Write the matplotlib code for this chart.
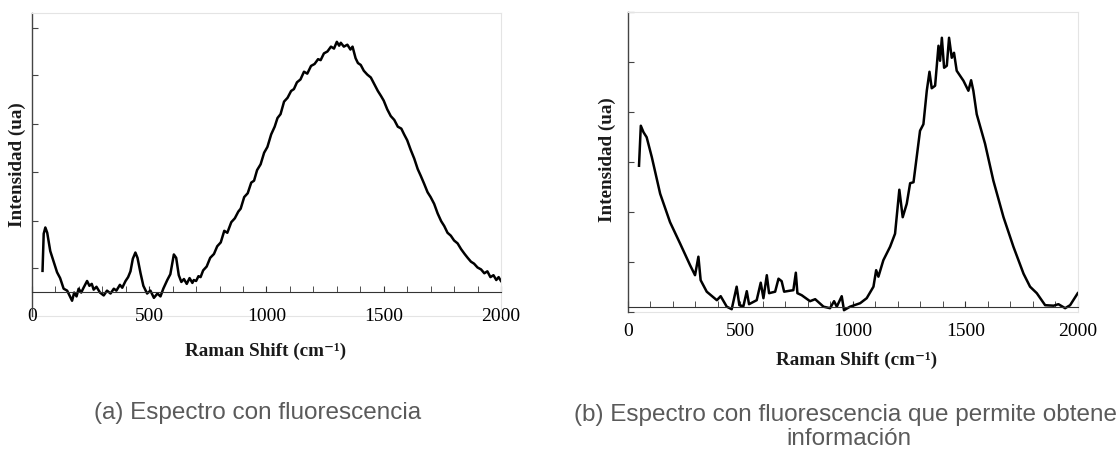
import matplotlib.pyplot as plt
from matplotlib.ticker import MultipleLocator

# spectrum (a): strong fluorescence background
shift_a = [45, 50, 57, 65, 78, 90, 107, 120, 135, 150, 160, 171, 180, 190, 199, 210, 220, 235, 245, 255,
           263, 275, 290, 306, 320, 335, 349, 360, 375, 385, 399, 410, 420, 430, 441, 450, 463, 475, 491, 505,
           520, 535, 548, 560, 577, 590, 605, 615, 626, 637, 648, 660, 672, 684, 690, 700, 710, 719, 730, 745,
           760, 776, 790, 805, 820, 833, 850, 865, 880, 890, 905, 920, 935, 947, 960, 975, 990, 1004, 1020, 1035,
           1047, 1060, 1075, 1090, 1105, 1117, 1130, 1145, 1160, 1174, 1190, 1205, 1220, 1231, 1245, 1260, 1275,
           1288, 1300, 1310, 1317, 1330, 1345, 1358, 1367, 1380, 1390, 1402, 1415, 1430, 1445, 1460, 1475, 1488,
           1500, 1515, 1530, 1545, 1560, 1575, 1587, 1600, 1615, 1630, 1645, 1658, 1672, 1687, 1700, 1715, 1730,
           1745, 1758, 1772, 1786, 1800, 1815, 1830, 1845, 1858, 1872, 1885, 1900, 1915, 1929, 1942, 1955, 1968,
           1980, 1990, 2000]
intens_a = [0.43, 1.20, 1.33, 1.22, 0.84, 0.66, 0.40, 0.28, 0.06, 0.02, -0.08, -0.19, -0.02, -0.10, 0.06, -0.02,
            0.08, 0.22, 0.12, 0.16, 0.04, 0.10, -0.02, -0.08, 0.02, -0.04, 0.06, 0.02, 0.14, 0.08, 0.22, 0.30,
            0.42, 0.68, 0.81, 0.70, 0.38, 0.12, -0.04, 0.02, -0.13, -0.04, -0.10, 0.06, 0.24, 0.36, 0.77, 0.70,
            0.34, 0.20, 0.26, 0.16, 0.28, 0.18, 0.24, 0.22, 0.32, 0.30, 0.44, 0.52, 0.70, 0.78, 0.94, 1.02, 1.26,
            1.22, 1.44, 1.52, 1.66, 1.72, 1.96, 2.04, 2.26, 2.30, 2.52, 2.64, 2.88, 3.00, 3.26, 3.42, 3.60, 3.68,
            3.94, 4.02, 4.16, 4.20, 4.34, 4.40, 4.56, 4.52, 4.68, 4.72, 4.82, 4.80, 4.94, 4.98, 5.08, 5.04, 5.18,
            5.10, 5.16, 5.08, 5.12, 5.02, 5.08, 4.84, 4.74, 4.70, 4.58, 4.50, 4.44, 4.30, 4.16, 4.06, 3.96, 3.78,
            3.64, 3.56, 3.42, 3.38, 3.26, 3.14, 2.94, 2.76, 2.54, 2.40, 2.24, 2.06, 1.96, 1.82, 1.62, 1.46, 1.36,
            1.22, 1.16, 1.06, 1.00, 0.88, 0.78, 0.70, 0.62, 0.58, 0.50, 0.46, 0.38, 0.42, 0.30, 0.34, 0.24, 0.30,
            0.22]

# spectrum (b): fluorescence with visible Raman bands
shift_b = [50, 58, 70, 84, 107, 144, 188, 233, 277, 299, 314, 324, 351, 396, 413, 440, 462, 484, 496, 514,
           529, 539, 573, 591, 603, 618, 628, 655, 670, 684, 695, 721, 736, 747, 754, 773, 810, 833, 870, 899,
           917, 929, 951, 961, 988, 1033, 1062, 1092, 1104, 1114, 1136, 1166, 1188, 1207, 1222, 1240, 1255, 1270,
           1299, 1314, 1329, 1341, 1351, 1366, 1381, 1388, 1396, 1406, 1418, 1428, 1440, 1450, 1462, 1492, 1514,
           1526, 1536, 1551, 1588, 1625, 1670, 1714, 1759, 1788, 1818, 1855, 1893, 1914, 1944, 1966, 2000]
intens_b = [2.92, 3.72, 3.59, 3.49, 3.09, 2.36, 1.79, 1.36, 0.93, 0.73, 1.10, 0.63, 0.40, 0.23, 0.31, 0.10,
            0.05, 0.50, 0.13, 0.11, 0.41, 0.15, 0.23, 0.58, 0.27, 0.73, 0.37, 0.40, 0.66, 0.61, 0.40, 0.42, 0.43,
            0.78, 0.37, 0.33, 0.21, 0.25, 0.10, 0.07, 0.21, 0.10, 0.31, 0.03, 0.10, 0.17, 0.27, 0.50, 0.83, 0.70,
            1.03, 1.30, 1.56, 2.44, 1.89, 2.16, 2.57, 2.59, 3.62, 3.75, 4.42, 4.80, 4.47, 4.52, 5.32, 5.02, 5.48,
            4.88, 4.92, 5.48, 5.08, 5.18, 4.82, 4.62, 4.42, 4.63, 4.42, 3.95, 3.36, 2.62, 1.89, 1.30, 0.76, 0.50,
            0.37, 0.13, 0.12, 0.15, 0.07, 0.13, 0.37]

serif = ['Liberation Serif', 'DejaVu Serif']


def style_axes(ax, base, yticks, ylim):
    ax.set_xlim(0, 2000)
    ax.set_ylim(*ylim)
    ax.spines['bottom'].set_position(('data', base))
    ax.spines['bottom'].set_color('#333333')
    ax.spines['left'].set_color('#444444')
    ax.spines['left'].set_linewidth(1.0)
    for s in ('top', 'right'):
        ax.spines[s].set_color('#e4e4e4')
    # faint frame along the bottom of the picture
    ax.plot([0, 1], [0, 0], transform=ax.transAxes, color='#e4e4e4', lw=0.8, clip_on=False, zorder=0)
    ax.xaxis.set_major_locator(MultipleLocator(500))
    ax.xaxis.set_minor_locator(MultipleLocator(100))
    ax.tick_params(axis='x', which='both', direction='in', length=4, color='#333333',
                   labelsize=14, pad=12)
    ax.set_yticks(yticks)
    ax.tick_params(axis='y', direction='in', length=4, color='#444444', labelleft=False)
    for lab in ax.get_xticklabels():
        lab.set_fontfamily(serif)


fig = plt.figure(figsize=(11.18, 4.51), dpi=100)

ax1 = fig.add_axes([0.0286, 0.3, 0.4195, 0.671])
ax1.plot(shift_a, intens_a, color='black', lw=1.8)
style_axes(ax1, 0, [0.48, 1.47, 2.48, 3.48, 4.49, 5.47], (-0.5, 5.776))

ax2 = fig.add_axes([0.5615, 0.3089, 0.4025, 0.665])
ax2.plot(shift_b, intens_b, color='black', lw=1.8)
style_axes(ax2, 0.1, [0, 1, 2, 3, 4, 5, 6], (0, 6))

lab_kw = dict(fontfamily=serif, fontweight='bold', fontsize=13.8, color='#1a1a1a')
fig.text(17 / 1118, 1 - 165 / 451, 'Intensidad (ua)', rotation=90, ha='center', va='center', **lab_kw)
fig.text(607 / 1118, 1 - 160 / 451, 'Intensidad (ua)', rotation=90, ha='center', va='center', **lab_kw)
fig.text(266 / 1118, 1 - 351 / 451, 'Raman Shift (cm\u207b\u00b9)', ha='center', va='center', **lab_kw)
fig.text(857 / 1118, 1 - 360 / 451, 'Raman Shift (cm\u207b\u00b9)', ha='center', va='center', **lab_kw)

# caption (b) runs past the right edge, as in the original page
cap_kw = dict(fontfamily=['Liberation Sans', 'DejaVu Sans'], fontsize=17.5, color='#5a5a5a')
fig.text(258 / 1118, 1 - 413 / 451, '(a) Espectro con fluorescencia', ha='center', va='center', **cap_kw)
fig.text(849 / 1118, 1 - 427 / 451, '(b) Espectro con fluorescencia que permite obtener\ninformación',
         ha='center', va='center', multialignment='center', linespacing=1.15, **cap_kw)

fig.savefig('out.png', dpi=100)
